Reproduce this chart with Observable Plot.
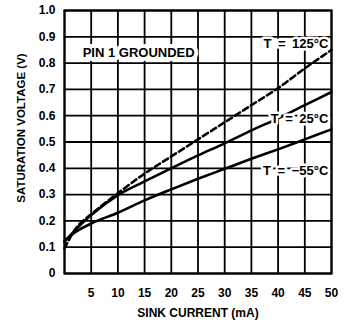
<!DOCTYPE html>
<html><head><meta charset="utf-8">
<script src="https://cdn.jsdelivr.net/npm/d3@7"></script>
<script src="https://cdn.jsdelivr.net/npm/@observablehq/plot@0.6"></script>
<style>
body{margin:0;background:#fff}
#chart svg{font-family:"Liberation Sans",Arial,sans-serif;font-weight:bold}
</style></head><body><div id="chart"></div>
<script>
const current = [0, 2, 5, 10, 15, 20, 25, 30, 35, 40, 45, 50];
const v125 = [0.095, 0.168, 0.225, 0.305, 0.38, 0.445, 0.51, 0.575, 0.64, 0.705, 0.78, 0.85];
const v25 = [0.12, 0.165, 0.222, 0.298, 0.35, 0.4, 0.449, 0.495, 0.544, 0.59, 0.64, 0.69];
const vm55 = [0.125, 0.157, 0.19, 0.231, 0.278, 0.32, 0.36, 0.398, 0.436, 0.472, 0.51, 0.548];
const xDomain = [0, 50];
const yDomain = [0, 1];
const gridXs = [0, 5, 10, 15, 20, 25, 30, 35, 40, 45, 50];
const xTicks = [5, 10, 15, 20, 25, 30, 35, 40, 45, 50];
const yTicks = [0, 0.1, 0.2, 0.3, 0.4, 0.5, 0.6, 0.7, 0.8, 0.9, 1.0];
const yTickLabels = ["0", "0.1", "0.2", "0.3", "0.4", "0.5", "0.6", "0.7", "0.8", "0.9", "1.0"];
const curveLabels = ["T\u2002=\u2002125°C", "T\u2002=\u200225°C", "T\u2002=\u2002\u221255°C"];
const labelX = [49.4, 49.4, 49.4];
const labelY = [0.875, 0.59, 0.39];
const noteText = ["PIN 1 GROUNDED"];
const noteX = [3.4];
const noteY = [0.84];
const xTitle = "SINK CURRENT (mA)";
const yTitle = "SATURATION VOLTAGE (V)";

const rows = (vals) => current.map((c, i) => ({x: c, y: vals[i]}));
const labelRows = curveLabels.map((t, i) => ({t, x: labelX[i], y: labelY[i]}));
const noteRows = noteText.map((t, i) => ({t, x: noteX[i], y: noteY[i]}));
const hGridRows = yTicks.flatMap(v => xDomain.map(x => ({x, y: v, k: "h" + v})));

const chart = Plot.plot({
  width: 347,
  height: 325,
  marginLeft: 64,
  marginRight: 16,
  marginTop: 10,
  marginBottom: 52,
  x: {domain: xDomain},
  y: {domain: yDomain},
  style: {fontSize: "12px", color: "#000", background: "#fff"},
  marks: [
    Plot.ruleX(gridXs, {stroke: "rgb(0,0,0)", strokeWidth: 1.8}),
    Plot.line(hGridRows, {x: "x", y: "y", z: "k", stroke: "rgb(0,0,0)", strokeWidth: 1.8}),
    Plot.line(rows(vm55), {x: "x", y: "y", curve: "monotone-x", stroke: "#000", strokeWidth: 2.6}),
    Plot.line(rows(v25), {x: "x", y: "y", curve: "monotone-x", stroke: "#000", strokeWidth: 2.6}),
    Plot.line(rows(v125), {x: "x", y: "y", curve: "monotone-x", stroke: "#000", strokeWidth: 2.6, strokeDasharray: "6,3.5"}),
    Plot.text(labelRows, {x: "x", y: "y", text: "t", textAnchor: "end", fontSize: 13, fontWeight: "bold", fill: "#000", stroke: "white", strokeWidth: 5}),
    Plot.text(noteRows, {x: "x", y: "y", text: "t", textAnchor: "start", fontSize: 13, fontWeight: "bold", fill: "#000", stroke: "white", strokeWidth: 8}),
    Plot.frame({stroke: "#000", strokeWidth: 2}),
    Plot.axisX(xTicks, {tickSize: 0, tickPadding: 15, fontSize: 12, label: null}),
    Plot.axisY(yTicks, {tickSize: 0, tickPadding: 9, fontSize: 12, label: null, tickFormat: (d) => yTickLabels[yTicks.indexOf(d)]}),
    Plot.text([xTitle], {frameAnchor: "bottom", dy: 40, lineAnchor: "middle", textAnchor: "middle", text: d => d, fontSize: 12, fontWeight: "bold"}),
    Plot.text([yTitle], {frameAnchor: "left", dx: -43, dy: -14, lineAnchor: "middle", textAnchor: "middle", rotate: -90, text: d => d, fontSize: 11.5, fontWeight: "bold"})
  ]
});
document.getElementById("chart").appendChild(chart);
</script></body></html>
